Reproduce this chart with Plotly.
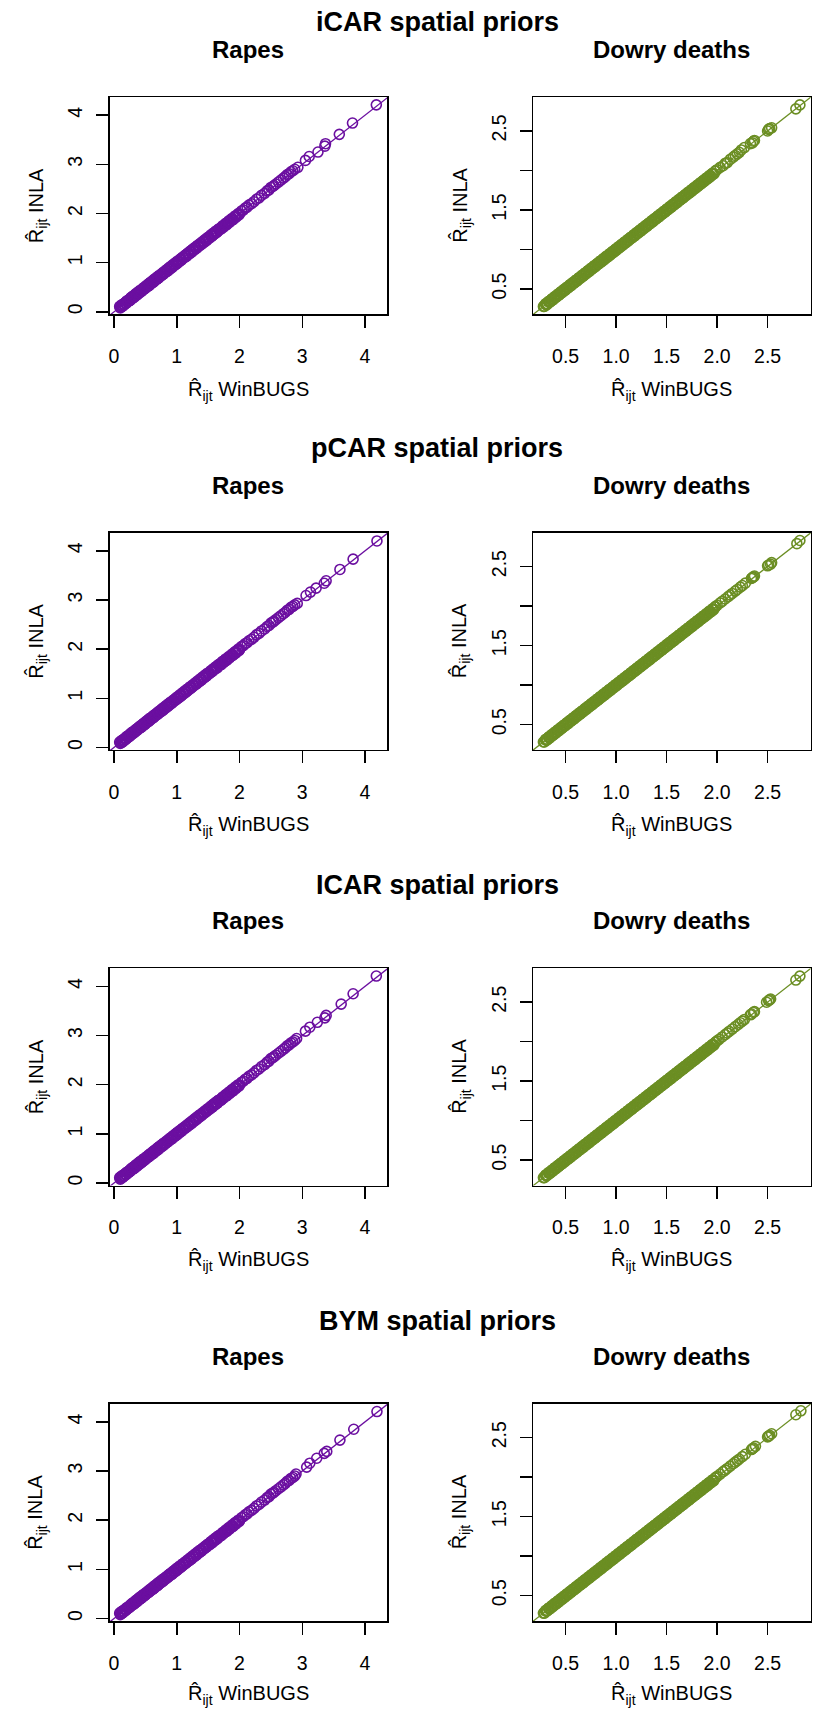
import plotly.graph_objects as go

# ---------------- data ----------------
row_titles = ["iCAR spatial priors", "pCAR spatial priors", "ICAR spatial priors", "BYM spatial priors"]
col_titles = ["Rapes", "Dowry deaths"]

# Rapes: dense part of the cloud (same look across the four models)
rapes_dense_winbugs = [0.09, 0.11, 0.12, 0.14, 0.15, 0.17, 0.19, 0.2, 0.22, 0.24, 0.25, 0.27, 0.29, 0.3, 0.32,
                       0.34, 0.35, 0.37, 0.39, 0.41, 0.42, 0.44, 0.46, 0.47, 0.49, 0.51, 0.53, 0.55, 0.56, 0.58,
                       0.6, 0.62, 0.63, 0.65, 0.67, 0.69, 0.7, 0.72, 0.74, 0.76, 0.78, 0.79, 0.81, 0.83, 0.85,
                       0.87, 0.88, 0.9, 0.92, 0.94, 0.96, 0.98, 1.0, 1.01, 1.03, 1.05, 1.07, 1.09, 1.11, 1.13,
                       1.15, 1.17, 1.19, 1.21, 1.23, 1.25, 1.27, 1.29, 1.31, 1.33, 1.35, 1.37, 1.39, 1.41, 1.43,
                       1.45, 1.47, 1.49, 1.51, 1.54, 1.56, 1.58, 1.6, 1.62, 1.64, 1.66, 1.69, 1.71, 1.73, 1.76,
                       1.78, 1.8, 1.83, 1.85, 1.88, 1.9, 1.93, 1.95, 1.98, 2.0]
rapes_dense_inla = [0.11, 0.10, 0.14, 0.12, 0.16, 0.18, 0.17, 0.22, 0.21, 0.25, 0.23, 0.29, 0.28, 0.32, 0.30,
                    0.35, 0.37, 0.35, 0.41, 0.40, 0.44, 0.42, 0.47, 0.49, 0.47, 0.53, 0.52, 0.57, 0.54, 0.60,
                    0.59, 0.64, 0.61, 0.67, 0.66, 0.71, 0.68, 0.74, 0.73, 0.78, 0.76, 0.81, 0.80, 0.85, 0.83,
                    0.89, 0.87, 0.92, 0.90, 0.96, 0.95, 1.00, 0.98, 1.03, 1.02, 1.07, 1.05, 1.11, 1.10, 1.15,
                    1.13, 1.19, 1.18, 1.23, 1.21, 1.27, 1.26, 1.31, 1.29, 1.35, 1.34, 1.39, 1.37, 1.43, 1.42,
                    1.47, 1.45, 1.51, 1.50, 1.56, 1.54, 1.60, 1.59, 1.64, 1.62, 1.68, 1.70, 1.69, 1.75, 1.75,
                    1.80, 1.78, 1.85, 1.84, 1.90, 1.88, 1.95, 1.94, 2.00, 1.99]
rapes_dense2_winbugs = [0.1, 0.115, 0.13, 0.145, 0.16, 0.18, 0.195, 0.21, 0.23, 0.245, 0.26, 0.28, 0.295, 0.31,
                        0.33, 0.345, 0.36, 0.38, 0.4, 0.415, 0.43, 0.45, 0.465, 0.48, 0.5, 0.52, 0.54, 0.555,
                        0.57, 0.59, 0.61, 0.625, 0.64, 0.66, 0.68, 0.695, 0.71, 0.73, 0.75, 0.77, 0.785, 0.8,
                        0.82, 0.84, 0.86, 0.875, 0.89, 0.91, 0.93, 0.95, 0.97, 0.99, 1.005, 1.02, 1.04, 1.06,
                        1.08, 1.1, 1.12, 1.14, 1.16, 1.18, 1.2, 1.22, 1.24, 1.26, 1.28, 1.3, 1.32, 1.34, 1.36,
                        1.38, 1.4, 1.42, 1.44, 1.46, 1.48, 1.5, 1.525, 1.55, 1.57, 1.59, 1.61, 1.63, 1.65,
                        1.675, 1.7, 1.72, 1.745, 1.77, 1.79, 1.815, 1.84, 1.865, 1.89, 1.915, 1.94, 1.965, 1.99]
rapes_dense2_inla = [0.08, 0.125, 0.11, 0.155, 0.14, 0.19, 0.175, 0.22, 0.21, 0.255, 0.24, 0.29, 0.275, 0.32,
                     0.31, 0.355, 0.34, 0.39, 0.38, 0.425, 0.41, 0.46, 0.445, 0.49, 0.48, 0.53, 0.52, 0.565,
                     0.55, 0.60, 0.59, 0.635, 0.62, 0.67, 0.66, 0.705, 0.69, 0.74, 0.73, 0.78, 0.765, 0.81,
                     0.80, 0.85, 0.84, 0.885, 0.87, 0.92, 0.91, 0.96, 0.95, 1.00, 0.985, 1.03, 1.02, 1.07,
                     1.06, 1.11, 1.10, 1.15, 1.14, 1.19, 1.18, 1.23, 1.22, 1.27, 1.26, 1.31, 1.30, 1.35, 1.34,
                     1.39, 1.38, 1.43, 1.42, 1.47, 1.46, 1.51, 1.505, 1.56, 1.55, 1.60, 1.59, 1.64, 1.63,
                     1.685, 1.68, 1.73, 1.725, 1.78, 1.77, 1.825, 1.82, 1.875, 1.87, 1.925, 1.92, 1.975, 1.97]
rapes_mid_winbugs = [2.03, 2.06, 2.09, 2.12, 2.15, 2.19, 2.23, 2.27, 2.31, 2.35, 2.4, 2.44, 2.47, 2.5, 2.53,
                     2.55, 2.58, 2.62, 2.66, 2.7, 2.73, 2.76, 2.79, 2.82, 2.85, 2.88]
rapes_mid_inla = [2.05, 2.07, 2.11, 2.13, 2.17, 2.2, 2.24, 2.29, 2.32, 2.37, 2.41, 2.46, 2.48, 2.53, 2.55,
                  2.57, 2.6, 2.64, 2.68, 2.72, 2.75, 2.79, 2.81, 2.85, 2.87, 2.9]
rapes_tail_winbugs = [[2.93, 3.05, 3.11, 3.25, 3.36, 3.37, 3.59, 3.80, 4.18],
                      [2.92, 3.06, 3.13, 3.22, 3.35, 3.38, 3.60, 3.81, 4.19],
                      [2.91, 3.05, 3.12, 3.24, 3.36, 3.38, 3.62, 3.81, 4.18],
                      [2.90, 3.07, 3.12, 3.23, 3.35, 3.39, 3.60, 3.82, 4.19]]
rapes_tail_inla = [[2.94, 3.08, 3.16, 3.25, 3.37, 3.42, 3.61, 3.84, 4.21],
                   [2.93, 3.09, 3.16, 3.24, 3.34, 3.39, 3.62, 3.83, 4.20],
                   [2.94, 3.09, 3.17, 3.27, 3.36, 3.41, 3.64, 3.85, 4.21],
                   [2.94, 3.08, 3.16, 3.26, 3.36, 3.40, 3.63, 3.85, 4.21]]

# Dowry deaths
dowry_dense_winbugs = [0.28, 0.3, 0.31, 0.33, 0.34, 0.36, 0.37, 0.39, 0.4, 0.42, 0.43, 0.45, 0.46, 0.48, 0.49,
                       0.51, 0.52, 0.54, 0.55, 0.57, 0.58, 0.6, 0.61, 0.63, 0.64, 0.66, 0.67, 0.69, 0.7, 0.72,
                       0.73, 0.75, 0.76, 0.78, 0.79, 0.81, 0.82, 0.84, 0.85, 0.87, 0.88, 0.9, 0.91, 0.93, 0.94,
                       0.96, 0.97, 0.99, 1.0, 1.02, 1.03, 1.05, 1.06, 1.08, 1.09, 1.11, 1.12, 1.14, 1.15, 1.17,
                       1.18, 1.2, 1.21, 1.23, 1.24, 1.26, 1.27, 1.29, 1.3, 1.32, 1.33, 1.35, 1.36, 1.38, 1.39,
                       1.41, 1.42, 1.44, 1.45, 1.47, 1.48, 1.5, 1.51, 1.53, 1.54, 1.56, 1.57, 1.59, 1.6, 1.62,
                       1.63, 1.65, 1.66, 1.68, 1.69, 1.71, 1.72, 1.74, 1.75, 1.77, 1.78, 1.8, 1.81, 1.83, 1.84,
                       1.86, 1.87, 1.89, 1.9, 1.92, 1.93, 1.95, 1.96, 1.98, 2.0]
dowry_dense_inla = [0.28, 0.31, 0.30, 0.34, 0.33, 0.37, 0.36, 0.40, 0.39, 0.43, 0.42, 0.46, 0.45, 0.49, 0.48,
                    0.52, 0.51, 0.55, 0.54, 0.58, 0.57, 0.61, 0.60, 0.64, 0.63, 0.67, 0.66, 0.70, 0.69, 0.73,
                    0.72, 0.76, 0.75, 0.79, 0.78, 0.82, 0.81, 0.85, 0.84, 0.88, 0.87, 0.91, 0.90, 0.94, 0.93,
                    0.97, 0.96, 1.00, 0.99, 1.03, 1.02, 1.06, 1.05, 1.09, 1.08, 1.12, 1.11, 1.15, 1.14, 1.18,
                    1.17, 1.21, 1.20, 1.24, 1.23, 1.27, 1.26, 1.30, 1.29, 1.33, 1.32, 1.36, 1.35, 1.39, 1.38,
                    1.42, 1.41, 1.45, 1.44, 1.48, 1.47, 1.51, 1.50, 1.54, 1.53, 1.57, 1.56, 1.60, 1.59, 1.63,
                    1.62, 1.66, 1.65, 1.69, 1.68, 1.72, 1.71, 1.75, 1.74, 1.78, 1.77, 1.81, 1.80, 1.84, 1.83,
                    1.87, 1.86, 1.90, 1.89, 1.93, 1.92, 1.96, 1.95, 1.99, 2.01]
dowry_dense2_winbugs = [0.29, 0.305, 0.32, 0.335, 0.35, 0.365, 0.38, 0.395, 0.41, 0.425, 0.44, 0.455, 0.47,
                        0.485, 0.5, 0.515, 0.53, 0.545, 0.56, 0.575, 0.59, 0.605, 0.62, 0.635, 0.65, 0.665,
                        0.68, 0.695, 0.71, 0.725, 0.74, 0.755, 0.77, 0.785, 0.8, 0.815, 0.83, 0.845, 0.86,
                        0.875, 0.89, 0.905, 0.92, 0.935, 0.95, 0.965, 0.98, 0.995, 1.01, 1.025, 1.04, 1.055,
                        1.07, 1.085, 1.1, 1.115, 1.13, 1.145, 1.16, 1.175, 1.19, 1.205, 1.22, 1.235, 1.25,
                        1.265, 1.28, 1.295, 1.31, 1.325, 1.34, 1.355, 1.37, 1.385, 1.4, 1.415, 1.43, 1.445,
                        1.46, 1.475, 1.49, 1.505, 1.52, 1.535, 1.55, 1.565, 1.58, 1.595, 1.61, 1.625, 1.64,
                        1.655, 1.67, 1.685, 1.7, 1.715, 1.73, 1.745, 1.76, 1.775, 1.79, 1.805, 1.82, 1.835,
                        1.85, 1.865, 1.88, 1.895, 1.91, 1.925, 1.94, 1.955, 1.97, 1.985]
dowry_dense2_inla = [0.28, 0.315, 0.31, 0.345, 0.34, 0.375, 0.37, 0.405, 0.40, 0.435, 0.43, 0.465, 0.46,
                     0.495, 0.49, 0.525, 0.52, 0.555, 0.55, 0.585, 0.58, 0.615, 0.61, 0.645, 0.64, 0.675,
                     0.67, 0.705, 0.70, 0.735, 0.73, 0.765, 0.76, 0.795, 0.79, 0.825, 0.82, 0.855, 0.85,
                     0.885, 0.88, 0.915, 0.91, 0.945, 0.94, 0.975, 0.97, 1.005, 1.00, 1.035, 1.03, 1.065,
                     1.06, 1.095, 1.09, 1.125, 1.12, 1.155, 1.15, 1.185, 1.18, 1.215, 1.21, 1.245, 1.24,
                     1.275, 1.27, 1.305, 1.30, 1.335, 1.33, 1.365, 1.36, 1.395, 1.39, 1.425, 1.42, 1.455,
                     1.45, 1.485, 1.48, 1.515, 1.51, 1.545, 1.54, 1.575, 1.57, 1.605, 1.60, 1.635, 1.63,
                     1.665, 1.66, 1.695, 1.69, 1.725, 1.72, 1.755, 1.75, 1.785, 1.78, 1.815, 1.81, 1.845,
                     1.84, 1.875, 1.87, 1.905, 1.90, 1.935, 1.93, 1.965, 1.96, 1.995]
dowry_tail_winbugs = [[2.03, 2.06, 2.08, 2.1, 2.13, 2.16, 2.18, 2.2, 2.22, 2.24, 2.27, 2.33, 2.35, 2.36, 2.37, 2.5, 2.51, 2.52, 2.54, 2.78, 2.82],
                      [2.03, 2.05, 2.08, 2.11, 2.13, 2.15, 2.18, 2.2, 2.23, 2.25, 2.28, 2.34, 2.35, 2.36, 2.37, 2.5, 2.51, 2.53, 2.54, 2.79, 2.82],
                      [2.02, 2.05, 2.08, 2.1, 2.12, 2.15, 2.18, 2.21, 2.23, 2.25, 2.27, 2.33, 2.34, 2.36, 2.37, 2.49, 2.51, 2.52, 2.53, 2.78, 2.82],
                      [2.03, 2.06, 2.08, 2.1, 2.13, 2.16, 2.18, 2.2, 2.22, 2.25, 2.28, 2.34, 2.35, 2.36, 2.38, 2.5, 2.51, 2.52, 2.54, 2.78, 2.83]]
dowry_tail_inla = [[2.04, 2.06, 2.09, 2.1, 2.14, 2.17, 2.19, 2.21, 2.23, 2.26, 2.29, 2.34, 2.35, 2.37, 2.38, 2.5, 2.52, 2.53, 2.54, 2.78, 2.83],
                   [2.04, 2.06, 2.09, 2.12, 2.14, 2.16, 2.19, 2.21, 2.24, 2.26, 2.29, 2.35, 2.36, 2.37, 2.38, 2.51, 2.52, 2.53, 2.55, 2.79, 2.83],
                   [2.03, 2.06, 2.09, 2.11, 2.13, 2.16, 2.19, 2.22, 2.24, 2.26, 2.28, 2.34, 2.35, 2.37, 2.38, 2.5, 2.52, 2.53, 2.54, 2.78, 2.83],
                   [2.04, 2.07, 2.09, 2.11, 2.14, 2.17, 2.19, 2.21, 2.23, 2.26, 2.29, 2.35, 2.36, 2.37, 2.39, 2.51, 2.52, 2.53, 2.55, 2.79, 2.84]]

# identity reference line (abline(0, 1)) endpoints
identity_line = [-1.0, 5.0]

rapes_ticks = [0, 1, 2, 3, 4]
rapes_ticklabels = ["0", "1", "2", "3", "4"]
dowry_ticks = [0.5, 1.0, 1.5, 2.0, 2.5]
dowry_x_ticklabels = ["0.5", "1.0", "1.5", "2.0", "2.5"]
dowry_y_ticklabels = ["0.5", "", "1.5", "", "2.5"]

# ---------------- styling / layout ----------------
W, H = 814, 1711
PURPLE = "#6b0fa0"
GREEN = "#6b8e23"
FONT = "Liberation Sans, Arial, Helvetica, sans-serif"

row_tops = [97, 532.6, 968.2, 1403.7]
plot_h = 217.3
col_left = [109.5, 533.0]
col_right = [387.0, 810.7]
rapes_xrange = [-0.072, 4.35]
rapes_yrange = [-0.05, 4.37]
dowry_xrange = [0.177, 2.927]
dowry_yrange = [0.18, 2.93]
row_title_y = [22.3, 448.3, 884.7, 1320.7]
xtitle_gap = [76.5, 76.0, 75.5, 73.5]
main_title_x = 437

fig = go.Figure()
layout = dict(width=W, height=H, margin=dict(l=0, r=0, t=0, b=0),
              paper_bgcolor="white", plot_bgcolor="white", showlegend=False,
              font=dict(family=FONT, color="black"))
annotations = []


def px_x(p):
    return p / W


def px_y(p):
    return 1 - p / H


for r in range(4):
    for c in range(2):
        k = r * 2 + c + 1
        xa = "x" if k == 1 else f"x{k}"
        ya = "y" if k == 1 else f"y{k}"
        if c == 0:
            xs = rapes_dense_winbugs + rapes_dense2_winbugs + rapes_mid_winbugs + rapes_tail_winbugs[r]
            ys = rapes_dense_inla + rapes_dense2_inla + rapes_mid_inla + rapes_tail_inla[r]
            col = PURPLE
            xr, yr = rapes_xrange, rapes_yrange
            xtv, xtt, ytv, ytt = rapes_ticks, rapes_ticklabels, rapes_ticks, rapes_ticklabels
        else:
            xs = dowry_dense_winbugs + dowry_dense2_winbugs + dowry_tail_winbugs[r]
            ys = dowry_dense_inla + dowry_dense2_inla + dowry_tail_inla[r]
            col = GREEN
            xr, yr = dowry_xrange, dowry_yrange
            xtv, xtt, ytv, ytt = dowry_ticks, dowry_x_ticklabels, dowry_ticks, dowry_y_ticklabels
        fig.add_trace(go.Scatter(x=xs, y=ys, mode="markers", xaxis=xa, yaxis=ya,
                                 marker=dict(symbol="circle-open", size=10, color=col,
                                             line=dict(width=1.6, color=col)),
                                 hoverinfo="skip"))
        fig.add_trace(go.Scatter(x=identity_line, y=identity_line, mode="lines", xaxis=xa, yaxis=ya,
                                 line=dict(color=col, width=1.3), hoverinfo="skip"))
        top = row_tops[r]
        bottom = top + plot_h
        axis_common = dict(showgrid=False, zeroline=False, showline=True, linecolor="black", linewidth=1.5,
                           mirror=True, ticks="outside", ticklen=12, tickwidth=1.5, tickcolor="black",
                           tickfont=dict(size=19.5, family=FONT, color="black"))
        layout["xaxis" if k == 1 else f"xaxis{k}"] = dict(
            domain=[px_x(col_left[c]), px_x(col_right[c])], range=xr, anchor=ya,
            tickmode="array", tickvals=xtv, ticktext=xtt, ticklabelstandoff=12, **axis_common)
        layout["yaxis" if k == 1 else f"yaxis{k}"] = dict(
            domain=[px_y(bottom), px_y(top)], range=yr, anchor=xa,
            tickmode="array", tickvals=ytv, ticktext=ytt, tickangle=-90, ticklabelstandoff=6, **axis_common)
        cx = (col_left[c] + col_right[c]) / 2
        # column title
        annotations.append(dict(text=f"<b>{col_titles[c]}</b>", x=px_x(cx), y=px_y(top - 47.5),
                                xref="paper", yref="paper", xanchor="center", yanchor="middle",
                                showarrow=False, font=dict(size=24, family=FONT, color="black")))
        # x axis title
        annotations.append(dict(text="R\u0302<sub>ijt</sub> WinBUGS", x=px_x(cx),
                                y=px_y(bottom + xtitle_gap[r]),
                                xref="paper", yref="paper", xanchor="center", yanchor="middle",
                                showarrow=False, font=dict(size=20, family=FONT, color="black")))
        # y axis title
        annotations.append(dict(text="R\u0302<sub>ijt</sub> INLA", x=px_x(col_left[c] - 72),
                                y=px_y(top + plot_h / 2), textangle=-90,
                                xref="paper", yref="paper", xanchor="center", yanchor="middle",
                                showarrow=False, font=dict(size=20, family=FONT, color="black")))
    annotations.append(dict(text=f"<b>{row_titles[r]}</b>", x=px_x(main_title_x), y=px_y(row_title_y[r]),
                            xref="paper", yref="paper", xanchor="center", yanchor="middle",
                            showarrow=False, font=dict(size=27, family=FONT, color="black")))

layout["annotations"] = annotations
fig.update_layout(**layout)
fig.write_html("out.html", config={"displayModeBar": False, "staticPlot": True},
               post_script="document.body.style.margin='0';document.body.style.overflow='hidden';")
